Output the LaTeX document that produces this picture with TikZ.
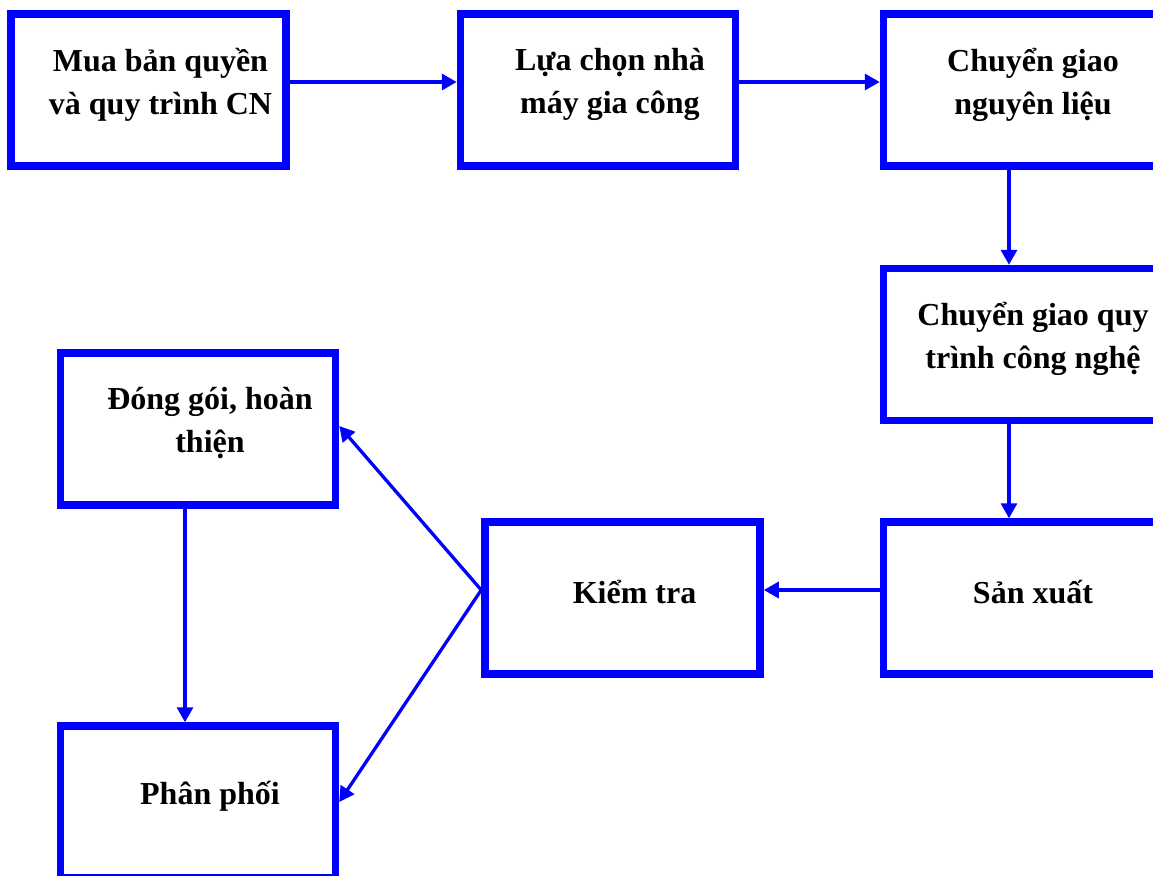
\documentclass[tikz,border=0pt]{standalone}
\usepackage{fontspec}
\setmainfont{Liberation Serif}
\usepackage{tikz}
\usetikzlibrary{arrows.meta}

\begin{document}
\begin{tikzpicture}[x=0.5pt,y=-0.5pt]
    \tikzstyle{box}=[draw=blue, line width=3.75pt, minimum width=137.5pt, minimum height=76pt, inner sep=0pt]
    \tikzstyle{txt}=[inner sep=0pt, align=center, xshift=6pt, yshift=2.75pt, font=\fontsize{16}{21.5}\selectfont\bfseries]
    \tikzstyle{arr}=[blue, line width=1.65pt, -{Triangle[length=7.5pt,width=8pt]}]
    \useasboundingbox (0,0) rectangle (1153,875);
    \clip (0,0) rectangle (1153,875);
    % top row
    \node [box] (mua) at (148.5,90) {};
    \node [txt] (muat) at (mua) {Mua bản quyền\\và quy trình CN};
    \node [box] (lua) at (598,90) {};
    \node [txt] (luat) at (lua) {Lựa chọn nhà\\máy gia công};
    \node [box] (nglieu) at (1021,90) {};
    \node [txt] (nglieut) at (nglieu) {Chuyển giao\\nguyên liệu};
    % right column
    \node [box] (qtcn) at (1021,344.5) {};
    \node [txt] (qtcnt) at (qtcn) {Chuyển giao quy\\trình công nghệ};
    \node [box] (sx) at (1021,598) {};
    \node [txt] (sxt) at (sx) {Sản xuất};
    \node [box] (kt) at (622.5,598) {};
    \node [txt] (ktt) at (kt) {Kiểm tra};
    % left column
    \node [box] (dg) at (198,429) {};
    \node [txt] (dgt) at (dg) {Đóng gói, hoàn\\thiện};
    \node [box] (pp) at (198,802) {};
    \node [txt] (ppt) at (pp) {Phân phối};

    \draw [arr] ([yshift=4pt]mua.east) -- ([yshift=4pt]lua.west);
    \draw [arr] ([yshift=4pt]lua.east) -- ([yshift=4pt]nglieu.west);
    \draw [arr] ([xshift=-6pt]nglieu.south) -- ([xshift=-6pt]qtcn.north);
    \draw [arr] ([xshift=-6pt]qtcn.south) -- ([xshift=-6pt]sx.north);
    \draw [arr] ([yshift=4pt]sx.west) -- ([yshift=4pt]kt.east);
    \draw [arr] ([yshift=4pt]kt.west) -- ([yshift=1.5pt]dg.east);
    \draw [arr] ([yshift=4pt]kt.west) -- (pp.east);
    \draw [arr] ([xshift=-6.5pt]dg.south) -- ([xshift=-6.5pt]pp.north);
\end{tikzpicture}
\end{document}
